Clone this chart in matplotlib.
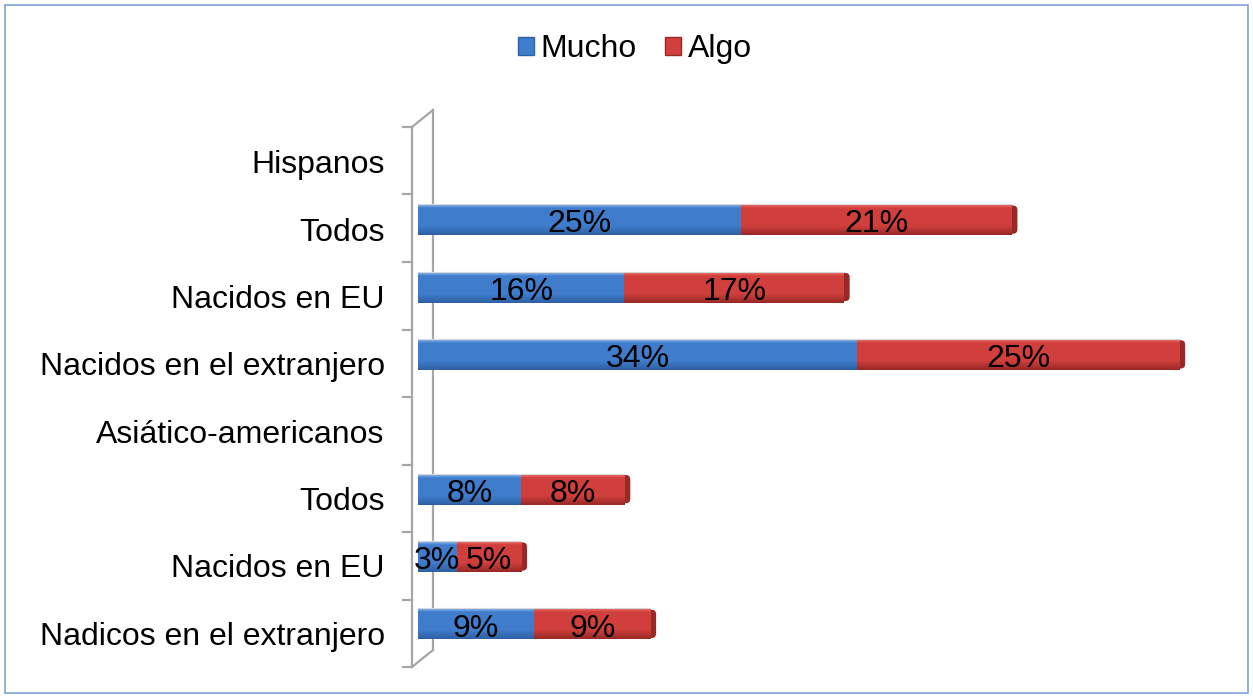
import numpy as np
import matplotlib
matplotlib.use("Agg")
import matplotlib.pyplot as plt
from matplotlib.patches import Patch, Rectangle, FancyBboxPatch
from matplotlib.lines import Line2D

plt.rcParams['font.family'] = ['Liberation Sans', 'DejaVu Sans']

# datos (de arriba hacia abajo); None = fila de título sin barra
categorias = ["Hispanos", "Todos", "Nacidos en EU", "Nacidos en el extranjero",
              "Asiático-americanos", "Todos", "Nacidos en EU", "Nadicos en el extranjero"]
mucho = [None, 25, 16, 34, None, 8, 3, 9]
algo = [None, 21, 17, 25, None, 8, 5, 9]
series = ["Mucho", "Algo"]

W, H = 1253, 698
fx = lambda px: px / W
fy = lambda py: 1 - py / H

fig = plt.figure(figsize=(W / 100, H / 100), dpi=100)
ax = fig.add_axes([fx(418), fy(667), fx(813), 539 / H])

# colores con degradado (arriba claro, medio, abajo oscuro)
azul = [(0.55, 0.72, 0.93), (0.25, 0.49, 0.80), (0.18, 0.38, 0.64)]
rojo = [(0.93, 0.42, 0.40), (0.82, 0.25, 0.24), (0.60, 0.16, 0.15)]


def degradado(cols, n=40):
    t = np.linspace(0, 1, n)
    top, mid, bot = [np.array(c) for c in cols]
    arr = np.zeros((n, 1, 3))
    for i, v in enumerate(t):
        if v < 0.12:
            c = top + (mid - top) * v / 0.12
        elif v < 0.7:
            c = mid
        else:
            c = mid + (bot - mid) * (v - 0.7) / 0.3
        arr[i, 0] = c
    return arr


n = len(categorias)
alto = 0.46
desp = 0.14
for i in range(n):
    if mucho[i] is None:
        continue
    y = n - 1 - i
    y0, y1 = y + desp - alto / 2, y + desp + alto / 2
    izq = 0
    for val, cols in zip([mucho[i], algo[i]], [azul, rojo]):
        ax.imshow(degradado(cols), extent=[izq, izq + val, y0, y1],
                  aspect='auto', zorder=2, interpolation='bilinear')
        ax.text(izq + val / 2, y + desp - 0.07, f"{val}%", ha='center', va='center',
                fontsize=23, color='black', zorder=5)
        izq += val
    # tapa 3D al final de la barra
    cap = FancyBboxPatch((izq - 0.4, y0 + 0.02), 0.85, alto - 0.04,
                         boxstyle="round,pad=0,rounding_size=0.35",
                         mutation_aspect=0.19, facecolor=rojo[2], edgecolor='none', zorder=1)
    ax.add_patch(cap)
    ax.plot([0, izq], [y1, y1], color=(0.85, 0.85, 0.85), lw=0.8, zorder=3)

ax.set_xlim(0, 63)
ax.set_ylim(-0.5, n - 0.5)
ax.set_yticks(range(n))
ax.set_yticklabels(categorias[::-1], fontsize=23)
ax.tick_params(axis='y', length=0, pad=24)
ax.set_xticks([])
for s in ax.spines.values():
    s.set_visible(False)
ax.patch.set_alpha(0)

# pared 3D del eje vertical
gris = '#A6A6A6'
pared = [((412, 127), (412, 667)), ((433, 110), (433, 650)),
         ((412, 127), (433, 110)), ((412, 667), (433, 650))]
for (a, b) in pared:
    fig.add_artist(Line2D([fx(a[0]), fx(b[0])], [fy(a[1]), fy(b[1])],
                          color=gris, lw=1.6, zorder=0))
for k in range(n + 1):
    yy = 127 + k * 67.5
    fig.add_artist(Line2D([fx(403), fx(412)], [fy(yy), fy(yy)], color=gris, lw=1.6))

# borde del gráfico
fig.add_artist(Rectangle((fx(5), fy(693)), fx(1243), 688 / H, transform=fig.transFigure,
                         fill=False, edgecolor='#7FA4D6', lw=1.2))

handles = [Patch(facecolor=azul[1], edgecolor=azul[2]), Patch(facecolor=rojo[1], edgecolor=rojo[2])]
fig.legend(handles, series, loc='center', bbox_to_anchor=(fx(635), fy(49)), ncol=2,
           frameon=False, fontsize=23, handlelength=0.5, handleheight=0.5,
           handletextpad=0.2, columnspacing=0.9)

fig.savefig("out.png", dpi=100, facecolor='white')
